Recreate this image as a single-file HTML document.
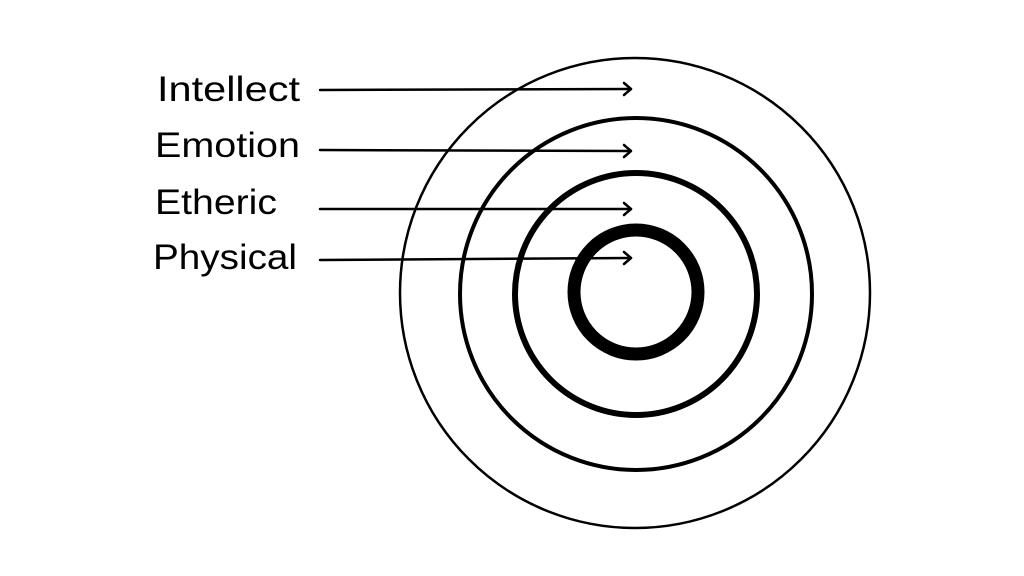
<!DOCTYPE html>
<html><head><style>html,body{margin:0;padding:0;background:#fff;width:1024px;height:576px;overflow:hidden}</style></head>
<body>
<svg width="1024" height="576" xmlns="http://www.w3.org/2000/svg">
<g fill="none" stroke="#000">
<circle cx="635" cy="293" r="235" stroke-width="2.5"/>
<circle cx="636" cy="294" r="176" stroke-width="4"/>
<circle cx="636" cy="294" r="121" stroke-width="6"/>
<circle cx="636" cy="292" r="62" stroke-width="13"/>
</g>
<g stroke="#000" stroke-width="2.5" fill="none" stroke-linecap="round" stroke-linejoin="round">
<line x1="320" y1="90" x2="631" y2="89"/><polyline points="624,83 631,89 624,95"/>
<line x1="320" y1="150" x2="631" y2="151"/><polyline points="624,145 631,151 624,157"/>
<line x1="320" y1="209" x2="631" y2="209"/><polyline points="624,203 631,209 624,215"/>
<line x1="320" y1="260" x2="631" y2="258"/><polyline points="624,252 631,258 624,264"/>
</g>
<g font-family="Liberation Sans, sans-serif" font-size="35" fill="#000">
<text x="157" y="101" textLength="143" lengthAdjust="spacingAndGlyphs">Intellect</text>
<text x="155" y="157" textLength="145" lengthAdjust="spacingAndGlyphs">Emotion</text>
<text x="155" y="214" textLength="122" lengthAdjust="spacingAndGlyphs">Etheric</text>
<text x="153" y="269" textLength="144" lengthAdjust="spacingAndGlyphs">Physical</text>
</g>
</svg>
</body></html>
